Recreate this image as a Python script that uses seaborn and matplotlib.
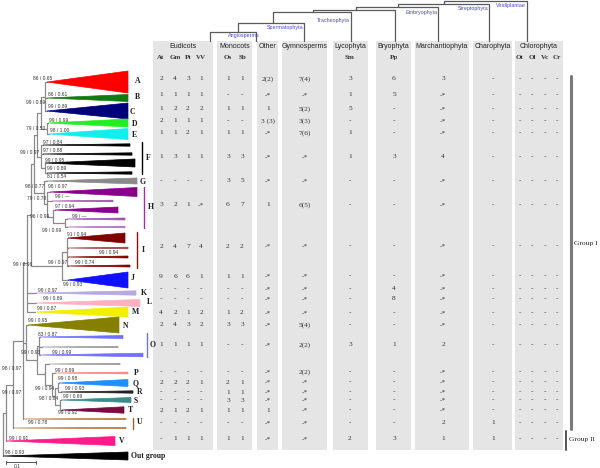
import numpy as np
import pandas as pd
import matplotlib
matplotlib.use("Agg")
import matplotlib.pyplot as plt
from matplotlib.patches import Rectangle
import seaborn as sns

sns.set_theme(style="white")
plt.rcParams['font.family'] = ['Liberation Sans', 'DejaVu Sans']
SERIF = ['Liberation Serif', 'DejaVu Serif']

# ---- table data (rows A..V) ----
rows = list("ABCDEFGHIJKLMNOPQRSTUV")
At = ["2", "1", "1", "2", "1", "1", "-", "3", "2", "9", "-", "-", "4", "2", "1", "-", "2", "-", "-", "2", "-", "-"]
Gm = ["4", "1", "2", "1", "1", "3", "-", "2", "4", "6", "-", "-", "2", "4", "1", "-", "2", "-", "-", "1", "-", "1"]
Pt = ["3", "1", "2", "1", "2", "1", "-", "1", "7", "6", "-", "-", "1", "3", "1", "-", "2", "-", "-", "2", "-", "1"]
VV = ["1", "1", "2", "1", "1", "1", "-", "-*", "4", "1", "-", "-", "2", "2", "1", "-", "1", "-", "-", "1", "-", "1"]
Os = ["1", "-", "1", "-", "1", "3", "3", "6", "2", "1", "-", "-", "1", "3", "-", "-", "2", "1", "3", "1", "-", "1"]
Sb = ["1", "-", "1", "-", "1", "3", "5", "7", "2", "1", "-", "-", "2", "3", "-", "-", "1", "1", "3", "1", "-", "1"]
Other = ["2(2)", "-*", "1", "3 (3)", "-*", "-*", "-*", "1", "-*", "-*", "-*", "-*", "-*", "-*", "-*",
         "-*", "-*", "-*", "-*", "1", "-*", "-*"]
Gymno = ["7(4)", "-*", "5(2)", "3(3)", "7(6)", "-*", "-*", "6(5)", "-*", "-*", "-*", "-*", "-*", "5(4)",
         "2(2)", "2(2)", "-*", "-*", "-*", "-*", "-*", "-*"]
Sm = ["3", "1", "5", "-", "1", "1", "-", "-", "-", "-", "-", "-", "-", "-", "3", "-", "-", "-", "-", "-", "-", "2"]
Pp = ["6", "5", "-", "-", "-", "3", "-", "-", "-", "-", "4", "8", "-", "-", "1", "-", "-", "-", "-", "-", "-", "3"]
March = ["3", "-*", "-*", "-*", "-*", "4", "-*", "-*", "-*", "-*", "-*", "-*", "-*", "-*", "2",
         "-*", "-*", "-*", "-*", "-*", "2", "1"]
Charo = ["-"] * 20 + ["1", "1"]
Ot = ["-"] * 22
Ol = ["-"] * 22
Vc = ["-"] * 22
Cr = ["-"] * 22

groups = ["Eudicots", "Monocots", "Other", "Gymnosperms", "Lycophyta", "Bryophyta",
          "Marchantiophyta", "Charophyta", "Chlorophyta"]
subcols = [["At", "Gm", "Pt", "VV"], ["Os", "Sb"], [""], [""], ["Sm"], ["Pp"], [""], [""],
           ["Ot", "Ol", "Vc", "Cr"]]
values = [[At, Gm, Pt, VV], [Os, Sb], [Other], [Gymno], [Sm], [Pp], [March], [Charo], [Ot, Ol, Vc, Cr]]

# ---- tree data ----
tip_names = ["Out", "V", "U2", "U1", "A", "B", "C", "D", "E", "F1", "F2", "F3", "F4", "G",
             "H1", "H2", "H3", "H4", "H5", "I1", "I2", "I3", "I4", "J", "K", "L", "M", "N",
             "O1", "O2", "O3", "Pg", "P", "Q", "R", "S", "T"]
tip_y = [456, 441, 428, 419, 82, 98, 111, 123, 134, 145, 154, 163, 173, 181,
         192, 201, 210, 219, 227, 238, 248, 257, 266, 280, 293, 303, 312, 325,
         337, 347, 355, 364, 373, 383, 392, 400, 410]
tip_start = [3, 6, 13, 23, 47, 47, 47, 48, 49, 43, 43, 45, 47, 47,
             50, 52, 55, 67, 67, 68, 68, 68, 68, 68, 36, 36, 35, 28,
             40, 42, 40, 49, 55, 59, 61, 61, 62]
tip_end = [128, 115, 126, 126, 128, 128, 128, 128, 128, 130, 132, 135, 132, 137,
           137, 113, 118, 125, 125, 125, 128, 128, 130, 128, 136, 140, 128, 119,
           123, 118, 143, 120, 128, 128, 133, 131, 124]
tip_half = [4, 4.5, 0.6, 0.6, 11, 3.5, 8, 4, 5.5, 1.2, 1.2, 4, 1.2, 3,
            4.5, 0.8, 3, 1, 0.8, 5, 0.8, 1, 1, 8, 2.2, 3.5, 5, 8,
            1.5, 0.7, 1.8, 0.7, 0.9, 3.5, 1.2, 2.5, 3.2]
tip_color = ["#000000", "#ff1a8c", "#b5773a", "#b5773a", "#ff0000", "#127a12", "#00007a", "#22ee22",
             "#11eeee", "#000000", "#000000", "#000000", "#000000", "#8a8a8a",
             "#8b008b", "#a050b0", "#8b008b", "#a050b0", "#b070c0", "#800000", "#a04040", "#800000",
             "#800000", "#1010ff", "#b8a8e0", "#ffb0c0", "#f0f000", "#858000",
             "#7070ff", "#999999", "#7070ff", "#999999", "#ff8080", "#1e8fff", "#202020", "#3a8c8c",
             "#7a0a40"]

nodes = {
    "root": (3, ["ingroup", "Out"]),
    "ingroup": (6, ["n13", "V"]),
    "n13": (13, ["n22", "U2"]),
    "n22": (23, ["AM", "NT", "U1"]),
    "AM": (27, ["AJ", "K", "L", "M"]),
    "AJ": (31, ["AH", "IJ"]),
    "AH": (34, ["AF", "GH"]),
    "AF": (37, ["AE", "Fc"]),
    "AE": (41, ["ABC", "DE"]),
    "ABC": (45, ["A", "B", "C"]),
    "DE": (47, ["D", "E"]),
    "Fc": (41, ["F1", "F2", "F34"]),
    "F34": (45, ["F3", "F4"]),
    "GH": (44, ["G", "Hc"]),
    "Hc": (47, ["H1", "H2", "H345"]),
    "H345": (53, ["H3", "H45"]),
    "H45": (65, ["H4", "H5"]),
    "IJ": (62, ["Ic", "J"]),
    "Ic": (67, ["I1", "I2", "I3", "I4"]),
    "NT": (26, ["N", "OT"]),
    "OT": (37, ["Oc", "PT2"]),
    "Oc": (39, ["O1", "O2", "O3"]),
    "PT2": (45, ["Pg", "PT"]),
    "PT": (52, ["P", "QT"]),
    "QT": (55, ["QR", "ST"]),
    "QR": (58, ["Q", "R"]),
    "ST": (60, ["S", "T"]),
}

bs_text = ["86 / 0.65", "86 / 0.61", "99 / 0.89", "99 / 0.89", "99 / 0.99", "79 / 0.50", "98 / 1.00",
           "97 / 0.84", "97 / 0.88", "99 / 0.97", "99 / 0.95", "99 / 0.89", "81 / 0.54", "98 / 0.77",
           "98 / 0.97", "99 / \u2014", "79 / 0.70", "97 / 0.94", "99 / \u2014", "96 / 0.99", "99 / 0.99",
           "91 / 0.94", "99 / 0.94", "99 / 0.97", "99 / 0.74", "99 / 0.96", "99 / 0.93", "99 / 0.97",
           "99 / 0.89", "99 / 0.87", "99 / 0.95", "83 / 0.87", "99 / 0.93", "99 / 0.99", "98 / 0.97",
           "99 / 0.99", "99 / 0.98", "99 / 0.94", "99 / 0.93", "99 / 0.97", "99 / 0.69", "98 / 0.84",
           "99 / 0.92", "99 / 0.78", "99 / 0.91", "98 / 0.93"]
bs_x = [33, 48, 26, 48, 49, 26, 50, 43, 43, 20, 45, 47, 47, 25, 48, 55, 27, 55, 72, 30, 42, 67, 99, 48, 75,
        13, 63, 38, 43, 37, 28, 38, 21, 52, 2, 55, 58, 35, 65, 2, 63, 39, 58, 28, 9, 5]
bs_y = [79, 95, 103, 107, 121, 128, 131, 142, 151, 152, 160, 169, 177, 186, 187, 197, 199, 206, 216, 216,
        231, 234, 253, 262, 262, 265, 285, 290, 299, 308, 321, 335, 353, 353, 369, 371, 379, 389, 389,
        393, 397, 399, 413, 422, 438, 452]

# clade labels
clade_lab = list("ABCDEFGHIJKLMNOPQRSTUV") + ["Out group"]
clade_lx = [135, 135, 130, 132, 132, 146, 140, 148, 142, 131, 141, 147, 132, 123, 150, 134, 133, 137, 134,
            128, 137, 119, 131]
clade_ly = [81, 97, 112, 124, 135, 158, 182, 207, 250, 278, 293, 302, 312, 326, 345, 373, 383, 392, 401,
            410, 422, 441, 456]

# ---- layout ----
panel_x = [(153, 213), (217, 252), (257, 278), (282, 327), (333, 368), (376, 411), (415, 469),
           (473, 512), (515, 563)]
sub_x = [[161, 175, 188, 201], [228, 242], [268], [305], [350], [394], [443], [493],
         [520, 532, 545, 557]]
row_y = [79, 95, 109, 121, 133, 157, 181, 205, 246, 276, 289, 299, 313, 325, 345, 372, 382, 392, 400,
         410, 423, 439]

fig = plt.figure(figsize=(6, 4.68), dpi=100)
ax = fig.add_axes([0, 0, 1, 1])

for (x0, x1) in panel_x:
    ax.add_patch(Rectangle((x0, 41), x1 - x0, 409, facecolor="#e5e5e5", lw=0, zorder=0))

for g, (x0, x1) in zip(groups, panel_x):
    ax.text((x0 + x1) / 2, 47, g, ha="center", va="center", fontsize=5.0, color="#222222")
for subs, xs in zip(subcols, sub_x):
    for s, x in zip(subs, xs):
        if s:
            ax.text(x, 57.5, s, ha="center", va="center", fontsize=5.0, fontweight="bold",
                    family=SERIF, color="#333333")
for cols, xs in zip(values, sub_x):
    for col, x in zip(cols, xs):
        for v, y in zip(col, row_y):
            ax.text(x, y, v, ha="center", va="center", fontsize=5.3, family=SERIF, color="#333333")

# ---- top cladogram ----
clado = [  # (y of bar, left x, right x, left drop to, right drop to, label)
    (32, 210, 256, 41, 41, "Angiosperms"),
    (23, 238, 304, 32, 41, "Spermatophyta"),
    (12, 273, 351, 23, 41, "Tracheophyta"),
    (9.5, 313, 395, 12, 41, ""),
    (6.5, 356, 438, 9.5, 41, "Embryophyta"),
    (3.5, 398, 489, 6.5, 41, "Streptophyta"),
    (0.8, 444, 527, 3.5, 41, "Viridiplantae"),
]
lab_pos = {"Angiosperms": (260, 35.5), "Spermatophyta": (303, 27), "Tracheophyta": (350, 20.5),
           "Embryophyta": (437, 12.5), "Streptophyta": (488, 8.5), "Viridiplantae": (526, 5)}
segs = []
k = 0
for (yb, xl, xr, dl, dr, lab) in clado:
    for pts in [[(xl, yb), (xr, yb)], [(xl, yb), (xl, dl)], [(xr, yb), (xr, dr)]]:
        for (x, y) in pts:
            segs.append((k, x, y))
        k += 1
    if lab:
        lx, ly = lab_pos[lab]
        ax.text(lx, ly, lab, ha="right", va="center", fontsize=3.9, color="#4a4ac8")
top_df = pd.DataFrame(segs, columns=["seg", "x", "y"])
sns.lineplot(data=top_df, x="x", y="y", units="seg", estimator=None, sort=False,
             color="#5a5a5a", linewidth=0.9, ax=ax, legend=False)

# ---- phylogenetic tree ----
tips = {n: i for i, n in enumerate(tip_names)}


def ypos(n):
    if n in tips:
        return tip_y[tips[n]]
    ys = [ypos(c) for c in nodes[n][1]]
    return (min(ys) + max(ys)) / 2


def xpos(n):
    return tip_start[tips[n]] if n in tips else nodes[n][0]


tsegs = []
k = 0
for n, (x, kids) in nodes.items():
    ys = [ypos(c) for c in kids]
    tsegs += [(k, x, min(ys)), (k, x, max(ys))]
    k += 1
    for c, cy in zip(kids, ys):
        if xpos(c) > x:
            tsegs += [(k, x, cy), (k, xpos(c), cy)]
            k += 1
tree_df = pd.DataFrame(tsegs, columns=["seg", "x", "y"])
sns.lineplot(data=tree_df, x="x", y="y", units="seg", estimator=None, sort=False,
             color="#8a8a8a", linewidth=0.9, ax=ax, legend=False)

for i in range(len(tip_names)):
    y, x0, x1, h, c = tip_y[i], tip_start[i], tip_end[i], tip_half[i], tip_color[i]
    ax.fill([x0, x1, x1], [y, y - h, y + h], color=c, ec=c, lw=0.5, zorder=3)

for t, x, y in zip(bs_text, bs_x, bs_y):
    ax.text(x, y, t, ha="left", va="center", fontsize=3.5, color="#333333", zorder=4)

for t, x, y in zip(clade_lab, clade_lx, clade_ly):
    ax.text(x, y, t, ha="left", va="center", fontsize=5.6, fontweight="bold", family=SERIF,
            color="#222222")

# clade brackets
for x, y0, y1, c in [(142, 142, 174, "#000000"), (144, 187, 228, "#a030a0"), (137, 232, 268, "#8b1010"),
                     (147, 333, 357, "#7070ff"), (133, 418, 429, "#a0622d")]:
    ax.plot([x, x], [y0, y1], color=c, lw=1.0)

# group brackets
ax.plot([571, 571], [76, 429], color="#7a7a7a", lw=2.2)
ax.plot([566, 566], [431, 450], color="#555555", lw=1.4)
ax.text(574, 244, "Group I", ha="left", va="center", fontsize=5.4, family=SERIF, color="#222222")
ax.text(569, 439, "Group II", ha="left", va="center", fontsize=5.4, family=SERIF, color="#222222")

# scale bar
ax.plot([6, 36], [462, 462], color="#555555", lw=0.7)
ax.plot([6, 6], [460.5, 463.5], color="#555555", lw=0.7)
ax.plot([36, 36], [460.5, 463.5], color="#555555", lw=0.7)
ax.text(17, 466, "0.1", ha="center", va="center", fontsize=3.6, color="#333333")

ax.set_xlim(0, 600)
ax.set_ylim(468, 0)
ax.axis("off")
fig.savefig("out.png", dpi=100)
